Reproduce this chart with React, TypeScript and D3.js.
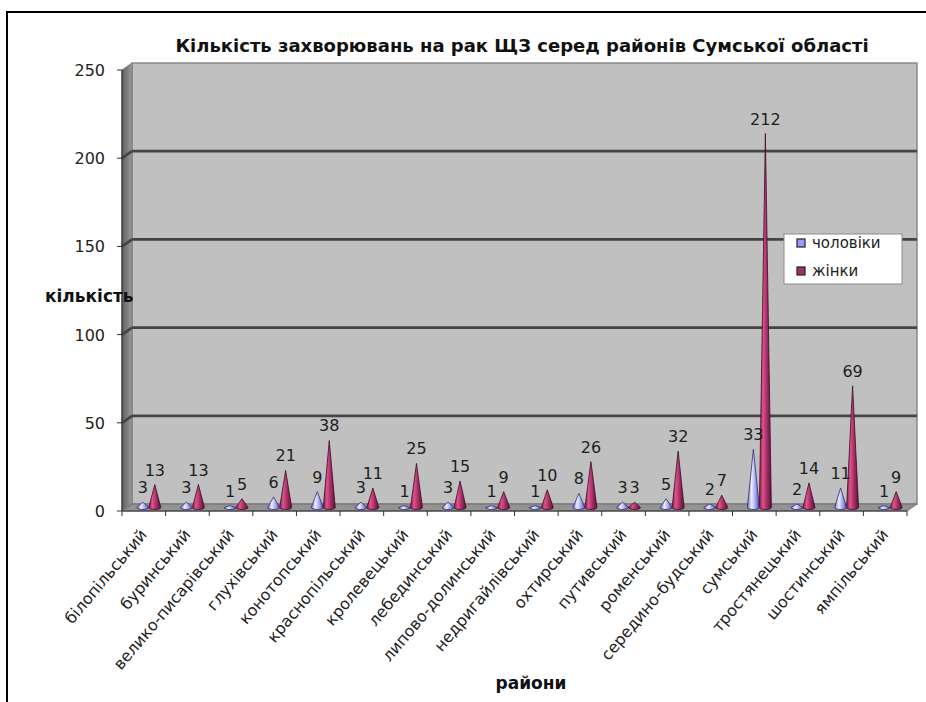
import React from "react";
import * as d3 from "d3";

const districts = [
  "білопільський",
  "буринський",
  "велико-писарівський",
  "глухівський",
  "конотопський",
  "краснопільський",
  "кролевецький",
  "лебединський",
  "липово-долинський",
  "недригайлівський",
  "охтирський",
  "путивський",
  "роменський",
  "середино-будський",
  "сумський",
  "тростянецький",
  "шостинський",
  "ямпільський",
];

const men = [3, 3, 1, 6, 9, 3, 1, 3, 1, 1, 8, 3, 5, 2, 33, 2, 11, 1];
const women = [13, 13, 5, 21, 38, 11, 25, 15, 9, 10, 26, 3, 32, 7, 212, 14, 69, 9];

const seriesNames = ["чоловіки", "жінки"];
const yTicks = [0, 50, 100, 150, 200, 250];

const W = 926;
const H = 702;
const FONT = "'DejaVu Sans', Verdana, sans-serif";

// 3D depth offset of the back wall relative to the front plane
const DX = 10;
const DY = -7;

export default function App() {
  const x = d3.scaleBand<string>().domain(districts).range([122, 907]).padding(0);
  const y = d3.scaleLinear().domain([0, 250]).range([511, 70]);
  const bw = x.bandwidth();
  const x0 = 122;
  const x1 = 907;
  const y0 = y(0);
  const yTop = y(250);

  const coneR = 6;
  const coneRy = 2;

  const series = [
    { name: seriesNames[0], values: men, fill: "url(#gMen)", stroke: "#2e2e6a", offset: -6 },
    { name: seriesNames[1], values: women, fill: "url(#gWomen)", stroke: "#3e0a24", offset: 6 },
  ];

  const conePath = (cx: number, base: number, tip: number) =>
    `M${cx - coneR},${base} L${cx},${tip} L${cx + coneR},${base} A${coneR},${coneRy} 0 0 1 ${cx - coneR},${base} Z`;

  return (
    <svg
      width={W}
      height={H}
      style={{ position: "absolute", left: 0, top: 0, background: "#fff" }}
      fontFamily={FONT}
    >
      <defs>
        <linearGradient id="gWall" x1="0" x2="1" y1="0" y2="0">
          <stop offset="0" stopColor="#5e5e5e" />
          <stop offset="1" stopColor="#9c9c9c" />
        </linearGradient>
        <linearGradient id="gWomen" x1="0" x2="1" y1="0" y2="0">
          <stop offset="0" stopColor="#7a1f4a" />
          <stop offset="0.3" stopColor="#e0528a" />
          <stop offset="0.6" stopColor="#a8306a" />
          <stop offset="1" stopColor="#5a1034" />
        </linearGradient>
        <linearGradient id="gMen" x1="0" x2="1" y1="0" y2="0">
          <stop offset="0" stopColor="#6a6ad0" />
          <stop offset="0.35" stopColor="#eeeeff" />
          <stop offset="0.7" stopColor="#9c9cf5" />
          <stop offset="1" stopColor="#4e4ea8" />
        </linearGradient>
      </defs>

      {/* outer frame */}
      <path d={`M7,${H} L7,12 L${W},12`} fill="none" stroke="#000" strokeWidth={2} />

      {/* title */}
      <text x={522} y={52} textAnchor="middle" fontSize={18} fontWeight="bold" fill="#111">
        Кількість захворювань на рак ЩЗ серед районів Сумської області
      </text>

      {/* back wall */}
      <rect
        x={x0 + DX}
        y={yTop + DY}
        width={x1 - x0}
        height={y0 - yTop}
        fill="#c0c0c0"
        stroke="#8a8a8a"
        strokeWidth={1.5}
      />
      {/* side wall */}
      <polygon
        points={`${x0},${yTop} ${x0 + DX},${yTop + DY} ${x0 + DX},${y0 + DY} ${x0},${y0}`}
        fill="url(#gWall)"
        stroke="#7a7a7a"
        strokeWidth={1}
      />
      {/* floor */}
      <polygon
        points={`${x0},${y0} ${x0 + DX},${y0 + DY} ${x1 + DX},${y0 + DY} ${x1},${y0}`}
        fill="#939393"
        stroke="#6e6e6e"
        strokeWidth={1}
      />

      {/* gridlines */}
      {yTicks
        .filter((t) => t > 0 && t < 250)
        .map((t) => (
          <g key={`g${t}`} stroke="#454545" strokeWidth={2.8} fill="none">
            <line x1={x0 + DX} x2={x1 + DX} y1={y(t) + DY} y2={y(t) + DY} />
            <line x1={x0} x2={x0 + DX} y1={y(t)} y2={y(t) + DY} />
          </g>
        ))}

      {/* value axis */}
      <line x1={x0} x2={x0} y1={yTop} y2={y0} stroke="#333" strokeWidth={1.2} />
      {yTicks.map((t) => (
        <g key={`yt${t}`}>
          <line x1={x0 - 5} x2={x0} y1={y(t)} y2={y(t)} stroke="#333" strokeWidth={1} />
          <text x={x0 - 17} y={y(t) + 6} textAnchor="end" fontSize={16} fill="#222">
            {t}
          </text>
        </g>
      ))}

      {/* category axis */}
      <line x1={x0} x2={x1} y1={y0} y2={y0} stroke="#333" strokeWidth={1.2} />
      {d3.range(districts.length + 1).map((i) => {
        const tx = x0 + i * bw;
        return <line key={`xt${i}`} x1={tx} x2={tx} y1={y0} y2={y0 + 5} stroke="#333" strokeWidth={1} />;
      })}
      {districts.map((d) => {
        const cx = (x(d) as number) + bw / 2 + 4;
        const ty = y0 + 24;
        return (
          <text
            key={`xl${d}`}
            x={cx}
            y={ty}
            textAnchor="end"
            fontSize={16}
            fill="#222"
            transform={`rotate(-50, ${cx}, ${ty})`}
          >
            {d}
          </text>
        );
      })}

      {/* cones */}
      {series.map((s) =>
        districts.map((d, i) => {
          const cx = (x(d) as number) + bw / 2 + s.offset + DX / 2;
          const base = y0 + DY / 2;
          const tip = y(s.values[i]) + DY / 2;
          return (
            <path
              key={`c${s.name}${i}`}
              d={conePath(cx, base, tip)}
              fill={s.fill}
              stroke={s.stroke}
              strokeWidth={0.8}
            />
          );
        })
      )}

      {/* value labels */}
      {series.map((s) =>
        districts.map((d, i) => {
          const cx = (x(d) as number) + bw / 2 + s.offset + DX / 2;
          const tip = y(s.values[i]) + DY / 2;
          return (
            <text
              key={`l${s.name}${i}`}
              x={cx}
              y={tip - 9}
              textAnchor="middle"
              fontSize={16}
              fill="#1e1e1e"
            >
              {s.values[i]}
            </text>
          );
        })
      )}

      {/* axis titles */}
      <text x={45} y={302} fontSize={17} fontWeight="bold" fill="#111">
        кількість
      </text>
      <text x={531} y={689} textAnchor="middle" fontSize={17} fontWeight="bold" fill="#111">
        райони
      </text>

      {/* legend */}
      <rect x={784} y={234} width={118} height={50} fill="#fff" stroke="#8a8a8a" strokeWidth={1} />
      {series.map((s, i) => (
        <g key={`lg${i}`}>
          <rect
            x={797}
            y={239 + i * 28}
            width={8}
            height={8}
            fill={i === 0 ? "#9999ff" : "#993366"}
            stroke="#222"
            strokeWidth={1.2}
          />
          <text x={812} y={248 + i * 28} fontSize={15} fill="#222">
            {s.name}
          </text>
        </g>
      ))}
    </svg>
  );
}
